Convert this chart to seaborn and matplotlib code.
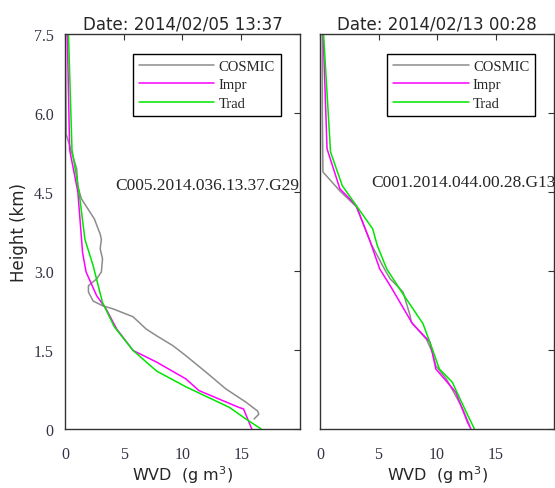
import numpy as np
import pandas as pd
import seaborn as sns
import matplotlib.pyplot as plt
from matplotlib.ticker import FixedLocator

# left profile: 2014/02/05 13:37
left_cosmic_wvd = [0.05, 0.1, 1.0, 1.1, 1.4, 2.5, 3.0, 3.1, 3.0, 3.2, 3.1, 2.7, 2.0, 2.0, 2.4, 3.2, 4.1, 5.8, 6.9, 7.8, 9.2, 10.3, 12.0, 13.7, 15.4, 16.4, 16.5, 16.1]
left_cosmic_h = [7.5, 5.6, 4.94, 4.6, 4.37, 3.99, 3.7, 3.6, 3.42, 3.23, 2.98, 2.85, 2.72, 2.6, 2.43, 2.34, 2.28, 2.13, 1.9, 1.77, 1.58, 1.39, 1.08, 0.76, 0.51, 0.34, 0.28, 0.19]
left_impr_wvd = [0.2, 0.4, 1.1, 1.5, 1.8, 2.7, 3.5, 4.4, 5.8, 7.8, 10.3, 11.4, 14.8, 15.2, 15.9]
left_impr_h = [7.5, 5.3, 4.5, 3.35, 2.98, 2.53, 2.28, 1.9, 1.49, 1.27, 0.95, 0.73, 0.41, 0.38, 0.0]
left_trad_wvd = [0.3, 0.6, 1.2, 1.7, 2.4, 3.2, 4.2, 5.8, 7.8, 10.3, 14.0, 15.4, 16.7]
left_trad_h = [7.5, 5.3, 4.5, 3.6, 3.1, 2.4, 1.94, 1.49, 1.1, 0.8, 0.41, 0.19, 0.0]

# right profile: 2014/02/13 00:28
right_cosmic_wvd = [0.2, 0.2, 0.25, 1.7, 3.1, 4.4, 5.5, 6.0, 7.1, 7.7, 7.8, 9.1, 9.6, 9.9, 10.8, 11.6, 12.2, 12.8]
right_cosmic_h = [7.5, 6.0, 4.88, 4.52, 4.22, 3.5, 3.04, 2.85, 2.6, 2.15, 2.03, 1.7, 1.46, 1.2, 0.95, 0.63, 0.38, 0.06]
right_impr_wvd = [0.27, 0.6, 1.7, 3.1, 4.3, 5.1, 6.0, 7.9, 9.4, 9.9, 11.6, 12.6, 12.9]
right_impr_h = [7.5, 5.32, 4.56, 4.24, 3.55, 3.04, 2.72, 2.0, 1.65, 1.14, 0.70, 0.13, 0.0]
right_trad_wvd = [0.3, 0.9, 1.9, 4.5, 4.9, 5.7, 7.1, 8.8, 9.6, 10.2, 11.3, 12.5, 13.2]
right_trad_h = [7.5, 5.26, 4.62, 3.8, 3.48, 3.04, 2.56, 2.0, 1.52, 1.14, 0.89, 0.32, 0.0]

titles = ["Date: 2014/02/05 13:37", "Date: 2014/02/13 00:28"]
notes = ["C005.2014.036.13.37.G29", "C001.2014.044.00.28.G13"]
note_pos = [(4.3, 4.63), (4.4, 4.69)]
yticks = [0, 1.5, 3.0, 4.5, 6.0, 7.5]
ytick_labels = ["0", "1.5", "3.0", "4.5", "6.0", "7.5"]
xticks = [0, 5, 10, 15]


def make_df(cosmic, impr, trad):
    parts = []
    for name, (x, h) in zip(["COSMIC", "Impr", "Trad"], [cosmic, impr, trad]):
        parts.append(pd.DataFrame({"wvd": x, "height": h, "src": name}))
    return pd.concat(parts, ignore_index=True)


frames = [
    make_df((left_cosmic_wvd, left_cosmic_h), (left_impr_wvd, left_impr_h), (left_trad_wvd, left_trad_h)),
    make_df((right_cosmic_wvd, right_cosmic_h), (right_impr_wvd, right_impr_h), (right_trad_wvd, right_trad_h)),
]

sns.set_style("white")
palette = {"COSMIC": "#8c8c8c", "Impr": "#ff00ff", "Trad": "#00e600"}
serif = "Liberation Serif"
sans = "DejaVu Sans"
tick_col = "#333344"

fig = plt.figure(figsize=(5.55, 4.89), dpi=100)
axes = [fig.add_axes([0.117, 0.1207, 0.4234, 0.8078]),
        fig.add_axes([0.5766, 0.1207, 0.4216, 0.8078])]

for i, ax in enumerate(axes):
    sns.lineplot(data=frames[i], x="wvd", y="height", hue="src", palette=palette,
                 sort=False, estimator=None, linewidth=1.1, ax=ax)
    ax.set_xlim(0, 20)
    ax.set_ylim(0, 7.5)
    ax.xaxis.set_major_locator(FixedLocator(xticks))
    ax.yaxis.set_major_locator(FixedLocator(yticks))
    ax.set_xticklabels([str(t) for t in xticks], family=serif, fontsize=11.5, color=tick_col)
    if i == 0:
        ax.set_yticklabels(ytick_labels, family=serif, fontsize=11.5, color=tick_col)
        ax.set_ylabel("Height (km)", family=sans, fontsize=12, labelpad=4)
    else:
        ax.set_yticklabels([])
        ax.set_ylabel("")
    ax.tick_params(direction="in", length=4, width=0.8, top=True, right=True,
                   color="#333333", pad=8)
    ax.tick_params(axis="x", pad=12)
    for sp in ax.spines.values():
        sp.set_color("#333333")
        sp.set_linewidth(1.0)
    ax.set_xlabel("WVD  (g m$^3$)", family=sans, fontsize=11.5, labelpad=1)
    ax.set_title(titles[i], family=sans, fontsize=12, pad=4)
    ax.text(note_pos[i][0], note_pos[i][1], notes[i], family=serif, fontsize=12.5,
            va="center", ha="left", clip_on=True)
    leg = ax.legend(loc="upper right", bbox_to_anchor=(0.919, 0.949),
                    prop={"family": serif, "size": 10.5}, handlelength=5.2,
                    fancybox=False, edgecolor="black", framealpha=1,
                    borderpad=0.4, labelspacing=0.35, handletextpad=0.3,
                    borderaxespad=0)
    leg.get_frame().set_linewidth(1.0)

fig.savefig("out.png", dpi=100)
